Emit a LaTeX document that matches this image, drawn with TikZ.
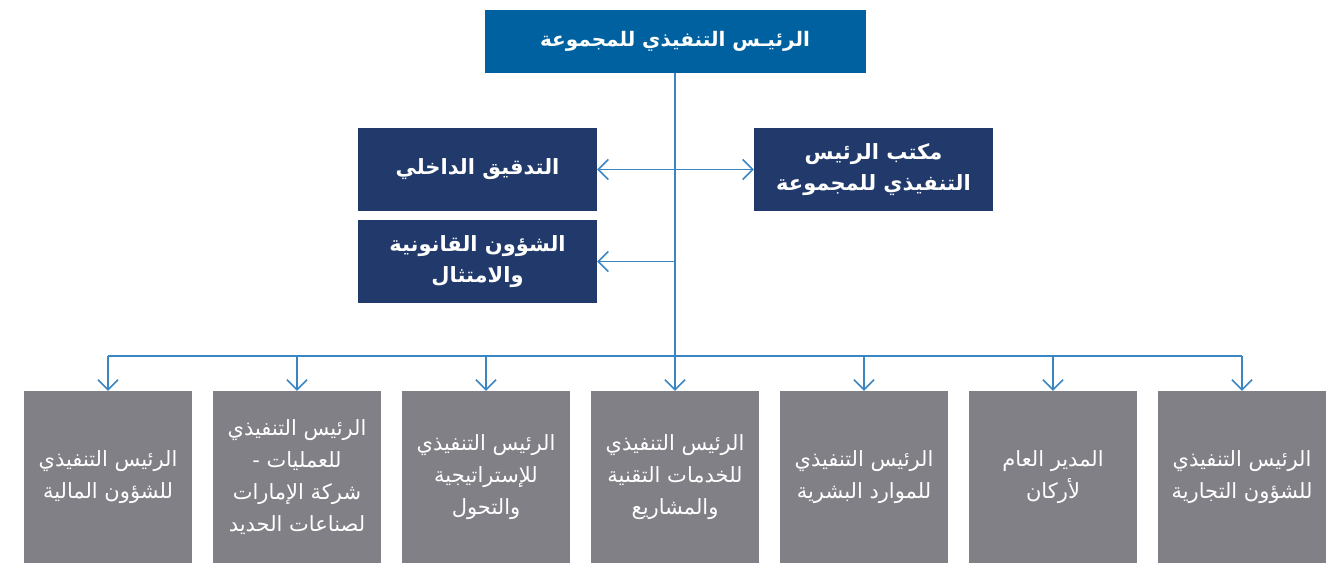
\documentclass[tikz,border=0pt]{standalone}
\usepackage{fontspec}
\newfontfamily\arabicfont[Script=Arabic]{DejaVu Sans}
\TeXXeTstate=1
\usetikzlibrary{arrows.meta}
\definecolor{ceoblue}{HTML}{0061A1}
\definecolor{navybox}{HTML}{213A6B}
\definecolor{unitgray}{HTML}{808086}
\definecolor{linkblue}{HTML}{3A86C2}
\newcommand{\rl}[1]{\beginR #1\endR}

\begin{document}
\begin{tikzpicture}[x=1pt,y=-1pt,
    ceobox/.style={fill=ceoblue, text=white, minimum width=381pt, minimum height=63pt, inner sep=0pt, align=center, font=\arabicfont\bfseries\fontsize{20}{24}\selectfont},
    midbox/.style={fill=navybox, text=white, minimum width=239pt, minimum height=83pt, inner sep=0pt, align=center, font=\arabicfont\bfseries\fontsize{21}{31}\selectfont},
    unitbox/.style={fill=unitgray, text=white, minimum width=168pt, minimum height=172pt, inner sep=0pt, align=center, font=\arabicfont\fontsize{21}{32}\selectfont},
    link/.style={draw=linkblue, line width=1.6pt},
    barb/.tip={Straight Barb[length=10pt,width=20pt,line width=1.6pt]},
    tip/.style={-barb}]
        \useasboundingbox (0,0) rectangle (1336,563);

        % Top box
        \node[ceobox] (ceo) at (675,41.5) {\rl{الرئيـس التنفيذي للمجموعة}};

        % Middle boxes
        \node[midbox] (audit) at (477.5,169.5) {\rl{التدقيق الداخلي}};
        \node[midbox] (legal) at (477.5,261.5) {\rl{الشؤون القانونية}\\\rl{والامتثال}};
        \node[midbox] (office) at (873.5,169.5) {\rl{مكتب الرئيس}\\\rl{التنفيذي للمجموعة}};

        % Bottom boxes
        \node[unitbox] (fin) at (108,477) {\rl{الرئيس التنفيذي}\\\rl{للشؤون المالية}};
        \node[unitbox] (ops) at (297,477) {\rl{الرئيس التنفيذي}\\\rl{للعمليات -}\\\rl{شركة الإمارات}\\\rl{لصناعات الحديد}};
        \node[unitbox] (strat) at (486,477) {\rl{الرئيس التنفيذي}\\\rl{للإستراتيجية}\\\rl{والتحول}};
        \node[unitbox] (tech) at (675,477) {\rl{الرئيس التنفيذي}\\\rl{للخدمات التقنية}\\\rl{والمشاريع}};
        \node[unitbox] (hr) at (864,477) {\rl{الرئيس التنفيذي}\\\rl{للموارد البشرية}};
        \node[unitbox] (arkan) at (1053,477) {\rl{المدير العام}\\\rl{لأركان}};
        \node[unitbox] (trade) at (1242,477) {\rl{الرئيس التنفيذي}\\\rl{للشؤون التجارية}};

        % Connectors
        \coordinate (bus) at (675,356);
        \draw[link] (ceo.south) -- (bus);
        \draw[link] (fin.north |- bus) -- (trade.north |- bus);
        \foreach \n in {fin,ops,strat,tech,hr,arkan,trade}
            \draw[link,tip] (\n.north |- bus) -- (\n.north);
        \draw[link,barb-barb] (audit.east) -- (office.west);
        \draw[link,tip] (ceo.south |- legal.east) -- (legal.east);

\end{tikzpicture}
\end{document}
